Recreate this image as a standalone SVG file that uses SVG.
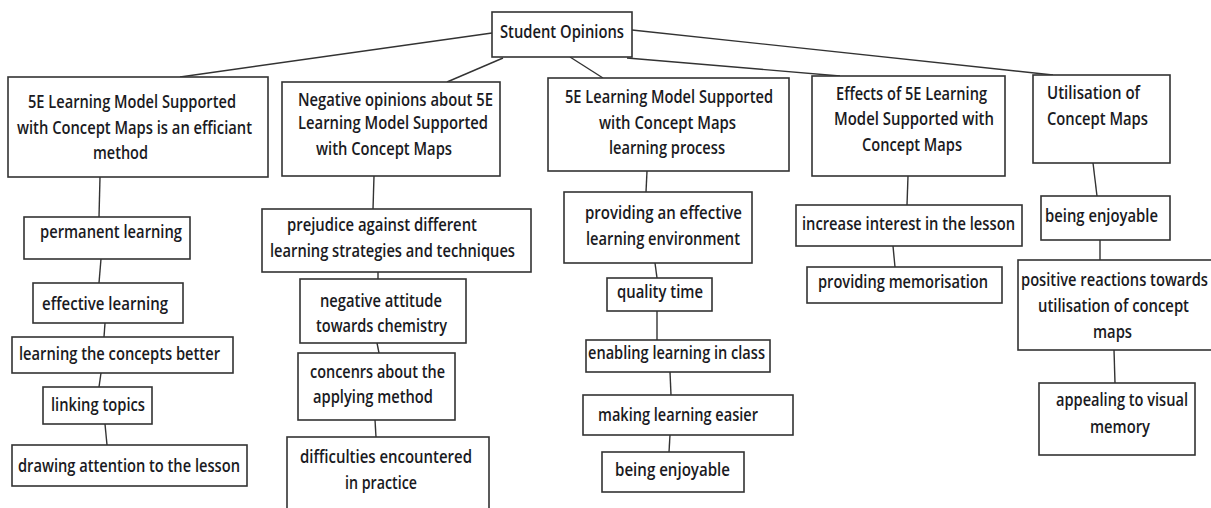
<svg xmlns="http://www.w3.org/2000/svg" width="1211" height="508" viewBox="0 0 1211 508">
<style>
rect.b{fill:#fff;stroke:#333;stroke-width:1.6}
text{font-family:"Open Sans","Liberation Sans",sans-serif;font-weight:600;font-size:17.5px;fill:#1a1a22}
.c line{stroke:#333;stroke-width:1.4}
</style>
<rect width="1211" height="508" fill="#fff"/>
<g class="c" id="connectors">
<line x1="492" y1="33" x2="180" y2="77"/>
<line x1="503" y1="58" x2="447" y2="82"/>
<line x1="570" y1="57" x2="603" y2="78"/>
<line x1="627" y1="58" x2="840" y2="76"/>
<line x1="632" y1="30" x2="1053" y2="75"/>
<line x1="100" y1="177" x2="99" y2="217"/>
<line x1="101" y1="259" x2="99" y2="283"/>
<line x1="105" y1="323" x2="104" y2="337"/>
<line x1="101" y1="373" x2="99" y2="387"/>
<line x1="105" y1="424" x2="107" y2="445"/>
<line x1="374" y1="176" x2="373" y2="209"/>
<line x1="378" y1="272" x2="378" y2="279"/>
<line x1="377" y1="343" x2="379" y2="353"/>
<line x1="375" y1="420" x2="376" y2="437"/>
<line x1="647" y1="171" x2="646" y2="192"/>
<line x1="655" y1="263" x2="657" y2="278"/>
<line x1="657" y1="311" x2="657" y2="340"/>
<line x1="670" y1="372" x2="671" y2="395"/>
<line x1="670" y1="435" x2="669" y2="452"/>
<line x1="908" y1="176" x2="907" y2="205"/>
<line x1="893" y1="246" x2="895" y2="267"/>
<line x1="1093" y1="163" x2="1097" y2="196"/>
<line x1="1100" y1="240" x2="1100" y2="260"/>
<line x1="1114" y1="350" x2="1115" y2="383"/>
</g>
<g id="root"><rect class="b" x="492" y="12" width="140" height="45"/><text x="500" y="38" textLength="124" lengthAdjust="spacingAndGlyphs">Student Opinions</text></g>
<g id="nodeA"><rect class="b" x="8" y="77" width="260" height="100"/>
<text x="28" y="108" textLength="208" lengthAdjust="spacingAndGlyphs">5E Learning Model Supported</text>
<text x="17" y="134" textLength="235" lengthAdjust="spacingAndGlyphs">with Concept Maps is an efficiant</text>
<text x="93" y="159" textLength="55" lengthAdjust="spacingAndGlyphs">method</text></g>
<g id="nodeB"><rect class="b" x="282" y="82" width="218" height="94"/>
<text x="298" y="106" textLength="195" lengthAdjust="spacingAndGlyphs">Negative opinions about 5E</text>
<text x="298" y="129" textLength="190" lengthAdjust="spacingAndGlyphs">Learning Model Supported</text>
<text x="316" y="155" textLength="136" lengthAdjust="spacingAndGlyphs">with Concept Maps</text></g>
<g id="nodeC"><rect class="b" x="548" y="78" width="241" height="93"/>
<text x="565" y="103" textLength="208" lengthAdjust="spacingAndGlyphs">5E Learning Model Supported</text>
<text x="599" y="129" textLength="137" lengthAdjust="spacingAndGlyphs">with Concept Maps</text>
<text x="609" y="154" textLength="116" lengthAdjust="spacingAndGlyphs">learning process</text></g>
<g id="nodeD"><rect class="b" x="812" y="76" width="193" height="100"/>
<text x="836" y="100" textLength="151" lengthAdjust="spacingAndGlyphs">Effects of 5E Learning</text>
<text x="834" y="125" textLength="160" lengthAdjust="spacingAndGlyphs">Model Supported with</text>
<text x="862" y="151" textLength="100" lengthAdjust="spacingAndGlyphs">Concept Maps</text></g>
<g id="nodeE"><rect class="b" x="1033" y="75" width="137" height="88"/>
<text x="1047" y="99" textLength="93" lengthAdjust="spacingAndGlyphs">Utilisation of</text>
<text x="1047" y="125" textLength="101" lengthAdjust="spacingAndGlyphs">Concept Maps</text></g>
<g id="a1"><rect class="b" x="24" y="217" width="166" height="42"/><text x="40" y="238" textLength="142" lengthAdjust="spacingAndGlyphs">permanent learning</text></g>
<g id="a2"><rect class="b" x="33" y="283" width="150" height="40"/><text x="42" y="310" textLength="126" lengthAdjust="spacingAndGlyphs">effective learning</text></g>
<g id="a3"><rect class="b" x="12" y="337" width="221" height="36"/><text x="19" y="360" textLength="201" lengthAdjust="spacingAndGlyphs">learning the concepts better</text></g>
<g id="a4"><rect class="b" x="43" y="387" width="109" height="37"/><text x="51" y="411" textLength="94" lengthAdjust="spacingAndGlyphs">linking topics</text></g>
<g id="a5"><rect class="b" x="12" y="445" width="235" height="41"/><text x="18" y="472" textLength="222" lengthAdjust="spacingAndGlyphs">drawing attention to the lesson</text></g>
<g id="b1"><rect class="b" x="262" y="209" width="269" height="63"/>
<text x="287" y="231" textLength="190" lengthAdjust="spacingAndGlyphs">prejudice against different</text>
<text x="270" y="257" textLength="245" lengthAdjust="spacingAndGlyphs">learning strategies and techniques</text></g>
<g id="b2"><rect class="b" x="300" y="279" width="166" height="64"/>
<text x="320" y="307" textLength="122" lengthAdjust="spacingAndGlyphs">negative attitude</text>
<text x="316" y="332" textLength="131" lengthAdjust="spacingAndGlyphs">towards chemistry</text></g>
<g id="b3"><rect class="b" x="298" y="353" width="157" height="67"/>
<text x="310" y="378" textLength="135" lengthAdjust="spacingAndGlyphs">concenrs about the</text>
<text x="313" y="403" textLength="120" lengthAdjust="spacingAndGlyphs">applying method</text></g>
<g id="b4"><rect class="b" x="287" y="437" width="202" height="80"/>
<text x="300" y="463" textLength="172" lengthAdjust="spacingAndGlyphs">difficulties encountered</text>
<text x="345" y="489" textLength="72" lengthAdjust="spacingAndGlyphs">in practice</text></g>
<g id="c1"><rect class="b" x="564" y="192" width="188" height="71"/>
<text x="585" y="219" textLength="157" lengthAdjust="spacingAndGlyphs">providing an effective</text>
<text x="586" y="245" textLength="154" lengthAdjust="spacingAndGlyphs">learning environment</text></g>
<g id="c2"><rect class="b" x="607" y="278" width="105" height="33"/><text x="617" y="298" textLength="86" lengthAdjust="spacingAndGlyphs">quality time</text></g>
<g id="c3"><rect class="b" x="586" y="340" width="184" height="32"/><text x="588" y="359" textLength="177" lengthAdjust="spacingAndGlyphs">enabling learning in class</text></g>
<g id="c4"><rect class="b" x="583" y="395" width="210" height="40"/><text x="598" y="421" textLength="160" lengthAdjust="spacingAndGlyphs">making learning easier</text></g>
<g id="c5"><rect class="b" x="602" y="452" width="142" height="40"/><text x="615" y="476" textLength="115" lengthAdjust="spacingAndGlyphs">being enjoyable</text></g>
<g id="d1"><rect class="b" x="796" y="205" width="226" height="41"/><text x="802" y="230" textLength="213" lengthAdjust="spacingAndGlyphs">increase interest in the lesson</text></g>
<g id="d2"><rect class="b" x="807" y="267" width="195" height="36"/><text x="818" y="288" textLength="170" lengthAdjust="spacingAndGlyphs">providing memorisation</text></g>
<g id="e1"><rect class="b" x="1041" y="196" width="129" height="44"/><text x="1045" y="222" textLength="113" lengthAdjust="spacingAndGlyphs">being enjoyable</text></g>
<g id="e2"><rect class="b" x="1018" y="260" width="200" height="90"/>
<text x="1021" y="286" textLength="187" lengthAdjust="spacingAndGlyphs">positive reactions towards</text>
<text x="1038" y="312" textLength="151" lengthAdjust="spacingAndGlyphs">utilisation of concept</text>
<text x="1093" y="338" textLength="39" lengthAdjust="spacingAndGlyphs">maps</text></g>
<g id="e3"><rect class="b" x="1039" y="383" width="156" height="72"/>
<text x="1056" y="406" textLength="132" lengthAdjust="spacingAndGlyphs">appealing to visual</text>
<text x="1090" y="433" textLength="60" lengthAdjust="spacingAndGlyphs">memory</text></g>
</svg>
